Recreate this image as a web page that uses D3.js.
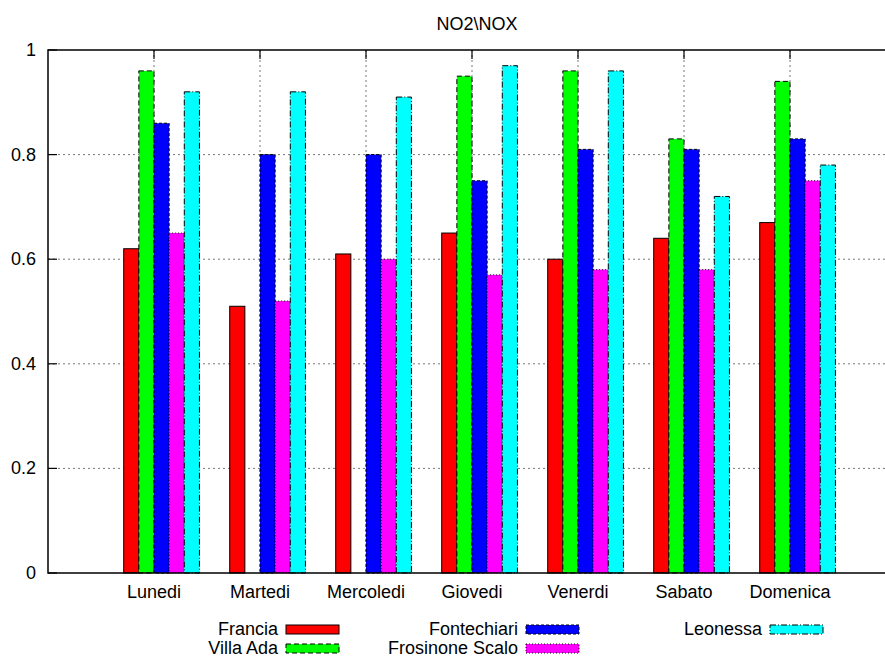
<!DOCTYPE html>
<html>
<head>
<meta charset="utf-8">
<script src="https://cdn.jsdelivr.net/npm/d3@7"></script>
<style>
  body { margin: 0; background: #fff; }
  text { font-family: "Liberation Sans", Arial, sans-serif; font-size: 18px; fill: #000; }
</style>
</head>
<body>
<div id="chart"></div>
<script>
// data
var days = ["Lunedi", "Martedi", "Mercoledi", "Giovedi", "Venerdi", "Sabato", "Domenica"];
var stations = ["Francia", "Villa Ada", "Fontechiari", "Frosinone Scalo", "Leonessa"];
var francia = [0.62, 0.51, 0.61, 0.65, 0.60, 0.64, 0.67];
var villaAda = [0.96, null, null, 0.95, 0.96, 0.83, 0.94];
var fontechiari = [0.86, 0.80, 0.80, 0.75, 0.81, 0.81, 0.83];
var frosinone = [0.65, 0.52, 0.60, 0.57, 0.58, 0.58, 0.75];
var leonessa = [0.92, 0.92, 0.91, 0.97, 0.96, 0.72, 0.78];
var yTicks = [0, 0.2, 0.4, 0.6, 0.8, 1];

var series = [francia, villaAda, fontechiari, frosinone, leonessa];
var colors = ["#ff0000", "#00ff00", "#0000ff", "#ff00ff", "#00ffff"];
var dashes = [null, "5,3", "3,2", "1,2", "6,2,1,2"];

var width = 885, height = 659;
var plotL = 48, plotR = 896, plotT = 50, plotB = 573;
var barW = 1 / 7;

var svg = d3.select("#chart")
            .append("svg")
            .attr("width", width)
            .attr("height", height);

var x = d3.scaleLinear().domain([-1, 7]).range([plotL, plotR]);
var y = d3.scaleLinear().domain([0, 1]).range([plotB, plotT]);

// grid
svg.append("g")
   .selectAll("line")
   .data(yTicks.slice(1, 5))
   .enter()
   .append("line")
   .attr("x1", plotL).attr("x2", plotR)
   .attr("y1", function(d){ return y(d); })
   .attr("y2", function(d){ return y(d); })
   .attr("stroke", "#777")
   .attr("stroke-width", 1)
   .attr("stroke-dasharray", "2,3");

svg.append("g")
   .selectAll("line")
   .data(days)
   .enter()
   .append("line")
   .attr("x1", function(d, i){ return x(i); })
   .attr("x2", function(d, i){ return x(i); })
   .attr("y1", plotT).attr("y2", plotB)
   .attr("stroke", "#777")
   .attr("stroke-width", 1)
   .attr("stroke-dasharray", "2,3");

// bars
series.forEach(function(vals, j){
    svg.append("g")
       .selectAll("rect")
       .data(vals.map(function(v, i){ return {i: i, v: v}; }).filter(function(d){ return d.v != null; }))
       .enter()
       .append("rect")
       .attr("x", function(d){ return x(d.i + (j - 2) * barW); })
       .attr("width", x(barW) - x(0))
       .attr("y", function(d){ return y(d.v); })
       .attr("height", function(d){ return y(0) - y(d.v); })
       .attr("fill", colors[j])
       .attr("stroke", "#000")
       .attr("stroke-width", 1)
       .attr("stroke-dasharray", dashes[j]);
});

// border
svg.append("path")
   .attr("d", "M" + plotR + "," + plotT + "H" + plotL + "V" + plotB + "H" + plotR)
   .attr("fill", "none")
   .attr("stroke", "#000")
   .attr("stroke-width", 1.5);

// y axis ticks + labels
var yAxis = svg.append("g");
yAxis.selectAll("line")
     .data(yTicks)
     .enter()
     .append("line")
     .attr("x1", plotL).attr("x2", plotL + 9)
     .attr("y1", function(d){ return y(d); })
     .attr("y2", function(d){ return y(d); })
     .attr("stroke", "#000")
     .attr("stroke-width", 1.2);
yAxis.selectAll("text")
     .data(yTicks)
     .enter()
     .append("text")
     .attr("x", 36)
     .attr("y", function(d){ return y(d) + 6; })
     .attr("text-anchor", "end")
     .text(function(d){ return d3.format("")(d); });

// x ticks (mirror on top) + labels
var xAxis = svg.append("g");
xAxis.selectAll("line")
     .data(days)
     .enter()
     .append("line")
     .attr("x1", function(d, i){ return x(i); })
     .attr("x2", function(d, i){ return x(i); })
     .attr("y1", plotT).attr("y2", plotT + 9)
     .attr("stroke", "#000")
     .attr("stroke-width", 1.2);
xAxis.selectAll("text")
     .data(days)
     .enter()
     .append("text")
     .attr("x", function(d, i){ return x(i); })
     .attr("y", 598)
     .attr("text-anchor", "middle")
     .text(function(d){ return d; });

// title
svg.append("text")
   .attr("x", 477)
   .attr("y", 30)
   .attr("text-anchor", "middle")
   .text("NO2\\NOX");

// legend: 3 columns, 2 rows
var legendCols = [278, 518, 762];
var legendRows = [635, 654];
var legend = svg.append("g")
                .selectAll("g")
                .data(stations)
                .enter()
                .append("g")
                .attr("transform", function(d, j){
                    return "translate(" + legendCols[Math.floor(j / 2)] + "," + legendRows[j % 2] + ")";
                });
legend.append("text")
      .attr("text-anchor", "end")
      .text(function(d){ return d; });
legend.append("rect")
      .attr("x", 8)
      .attr("y", -10)
      .attr("width", 53)
      .attr("height", 9)
      .attr("fill", function(d, j){ return colors[j]; })
      .attr("stroke", "#000")
      .attr("stroke-width", 1)
      .attr("stroke-dasharray", function(d, j){ return dashes[j]; });
</script>
</body>
</html>
